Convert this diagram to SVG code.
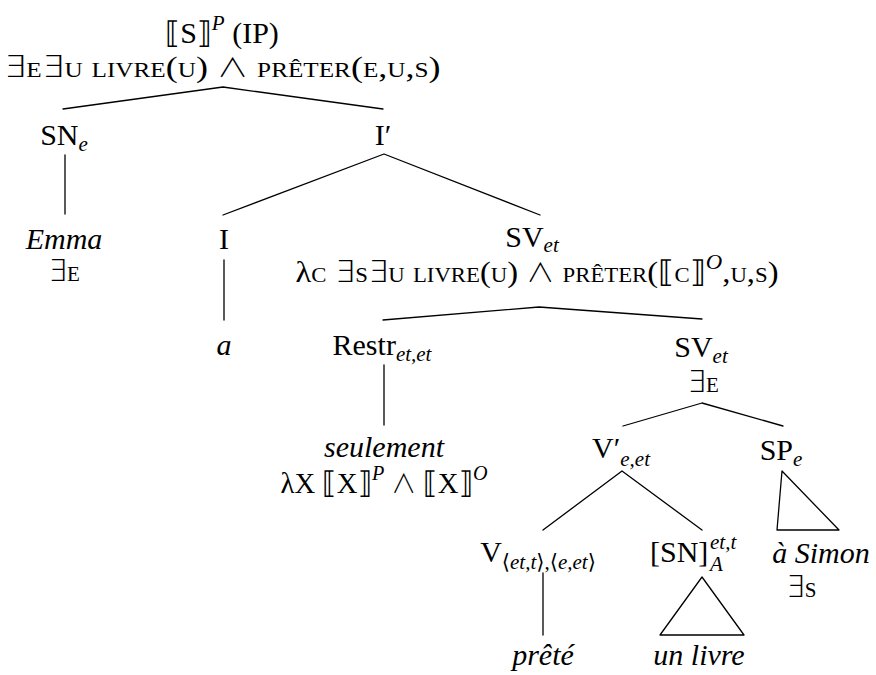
<svg xmlns="http://www.w3.org/2000/svg" width="876" height="675" viewBox="0 0 876 675">
<style>
text{font-family:"Liberation Serif","DejaVu Serif","DejaVu Sans",serif;font-size:30px;fill:#000}
.i{font-style:italic}
.sc{font-variant:small-caps}
.s{font-size:21px}
.m{font-family:"DejaVu Sans","DejaVu Serif",sans-serif;font-weight:200}
.w{font-family:"Noto Sans CJK JP","DejaVu Serif",serif;font-weight:300;font-size:26px}
.e{stroke:#000;stroke-width:1.3;fill:none;stroke-linecap:round;stroke-linejoin:round}
</style>
<rect width="876" height="675" fill="#fff"/>
<g id="connectors" class="e">
<polyline points="63,109 223,87 383,109"/>
<line x1="65" y1="155" x2="65" y2="214"/>
<polyline points="223,215 384,154 540,215"/>
<line x1="224" y1="260" x2="224" y2="320"/>
<polyline points="383,320 539,307 702,319"/>
<line x1="384" y1="365" x2="384" y2="425"/>
<polyline points="623,426 702,403 783,426"/>
<polyline points="543,530 622,471 702,530"/>
<polygon points="782,471 777,530 839,530"/>
<line x1="543" y1="573" x2="543" y2="635"/>
<polygon points="702,577 660,635 744,635"/>
</g>
<g id="n-root">
<text x="222" y="43" text-anchor="middle"><tspan class="m">⟦</tspan>S<tspan class="m">⟧</tspan><tspan class="s i" dy="-13">P</tspan><tspan dy="13"> (IP)</tspan></text>
<text x="222" y="77" text-anchor="middle" textLength="437" lengthAdjust="spacingAndGlyphs"><tspan class="m">∃</tspan><tspan class="sc">e</tspan><tspan class="m">∃</tspan><tspan class="sc">u livre</tspan>(<tspan class="sc">u</tspan>) <tspan class="w">∧</tspan> <tspan class="sc">prêter</tspan>(<tspan class="sc">e,u,s</tspan>)</text>
</g>
<g id="n-sn"><text x="64" y="145" text-anchor="middle">SN<tspan class="s i" dy="6">e</tspan></text></g>
<g id="n-ibar"><text x="383" y="145" text-anchor="middle">I′</text></g>
<g id="n-emma">
<text x="64" y="249" text-anchor="middle" class="i">Emma</text>
<text x="64" y="281" text-anchor="middle"><tspan class="m">∃</tspan><tspan class="sc">e</tspan></text>
</g>
<g id="n-i"><text x="224" y="249" text-anchor="middle">I</text></g>
<g id="n-sv1">
<text x="532" y="247" text-anchor="middle">SV<tspan class="s i" dy="5">et</tspan></text>
<text x="537" y="282" text-anchor="middle" textLength="483" lengthAdjust="spacingAndGlyphs">λ<tspan class="sc">c</tspan> <tspan class="m">∃</tspan><tspan class="sc">s</tspan><tspan class="m">∃</tspan><tspan class="sc">u livre</tspan>(<tspan class="sc">u</tspan>) <tspan class="w">∧</tspan> <tspan class="sc">prêter</tspan>(<tspan class="m">⟦</tspan><tspan class="sc">c</tspan><tspan class="m">⟧</tspan><tspan class="s i" dy="-13">O</tspan><tspan dy="13">,</tspan><tspan class="sc">u,s</tspan>)</text>
</g>
<g id="n-a"><text x="224" y="355" text-anchor="middle" class="i">a</text></g>
<g id="n-restr"><text x="382" y="355" text-anchor="middle">Restr<tspan class="s i" dy="6">et,et</tspan></text></g>
<g id="n-sv2">
<text x="701" y="357" text-anchor="middle">SV<tspan class="s i" dy="6">et</tspan></text>
<text x="703" y="392" text-anchor="middle"><tspan class="m">∃</tspan><tspan class="sc">e</tspan></text>
</g>
<g id="n-seulement">
<text x="384" y="457" text-anchor="middle" class="i">seulement</text>
<text x="384" y="493" text-anchor="middle" textLength="207" lengthAdjust="spacingAndGlyphs">λX <tspan class="m">⟦</tspan>X<tspan class="m">⟧</tspan><tspan class="s i" dy="-13">P</tspan><tspan dy="13"> </tspan><tspan class="w">∧</tspan> <tspan class="m">⟦</tspan>X<tspan class="m">⟧</tspan><tspan class="s i" dy="-13">O</tspan></text>
</g>
<g id="n-vbar"><text x="621" y="458" text-anchor="middle">V′<tspan class="s i" dy="8">e,et</tspan></text></g>
<g id="n-sp">
<text x="781" y="460" text-anchor="middle">SP<tspan class="s i" dy="6">e</tspan></text>
<text x="821" y="563" text-anchor="middle" class="i">à Simon</text>
<text x="801" y="597" text-anchor="middle"><tspan class="m">∃</tspan><tspan class="sc">s</tspan></text>
</g>
<g id="n-v">
<text x="538" y="562" text-anchor="middle">V<tspan class="s" dy="7"><tspan class="m">⟨</tspan><tspan class="i">et,t</tspan><tspan class="m">⟩</tspan>,<tspan class="m">⟨</tspan><tspan class="i">e,et</tspan><tspan class="m">⟩</tspan></tspan></text>
<text x="543" y="665" text-anchor="middle" class="i">prêté</text>
</g>
<g id="n-snA">
<text x="650" y="562">[SN]</text>
<text x="710" y="549" class="s i">et,t</text>
<text x="710" y="571" class="s i">A</text>
<text x="699" y="665" text-anchor="middle" class="i">un livre</text>
</g>
</svg>
